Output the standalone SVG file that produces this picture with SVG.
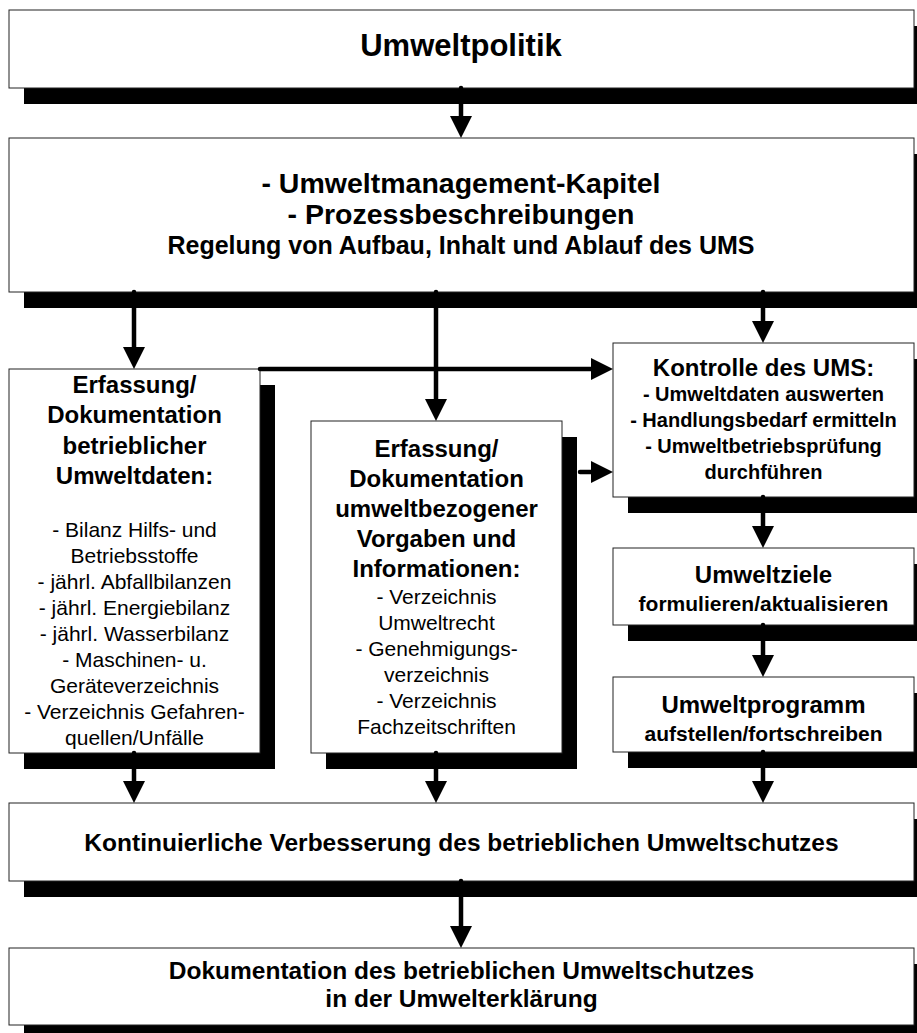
<svg xmlns="http://www.w3.org/2000/svg" width="917" height="1033" viewBox="0 0 917 1033">
<defs>
<style>
.box{fill:#fff;stroke:#222;stroke-width:1}
.sh{fill:#000}
text{font-family:"Liberation Sans",Arial,Helvetica,sans-serif;fill:#000;text-anchor:middle}
.b{font-weight:bold}
.con{stroke:#000;stroke-width:4.5;stroke-linecap:round;fill:none;marker-end:url(#ah)}
</style>
<marker id="ah" markerUnits="userSpaceOnUse" markerWidth="24" markerHeight="24" refX="2" refY="11" orient="auto">
<path d="M0,0 L22,11 L0,22 z" fill="#000"/>
</marker>
</defs>
<rect width="917" height="1033" fill="#fff"/>

<g id="umweltpolitik">
<rect class="sh" x="24" y="26" width="905" height="78"/>
<rect class="box" x="9" y="10" width="905" height="78"/>
<text class="b" x="461" y="56" font-size="31">Umweltpolitik</text>
</g>

<g id="umweltmanagement">
<rect class="sh" x="24" y="154" width="905" height="154"/>
<rect class="box" x="9" y="138" width="905" height="154"/>
<text class="b" x="461" y="193" font-size="28.5">- Umweltmanagement-Kapitel</text>
<text class="b" x="461" y="224" font-size="28.5">- Prozessbeschreibungen</text>
<text class="b" x="461" y="254" font-size="25">Regelung von Aufbau, Inhalt und Ablauf des UMS</text>
</g>

<g id="betriebliche-umweltdaten">
<rect class="sh" x="24" y="385" width="251" height="384"/>
<rect class="box" x="9" y="369" width="251" height="384"/>
<g class="b" font-size="24">
<text x="134.5" y="393">Erfassung/</text>
<text x="134.5" y="423">Dokumentation</text>
<text x="134.5" y="454">betrieblicher</text>
<text x="134.5" y="484">Umweltdaten:</text>
</g>
<g font-size="21">
<text x="134.5" y="537">- Bilanz Hilfs- und</text>
<text x="134.5" y="563">Betriebsstoffe</text>
<text x="134.5" y="589">- jährl. Abfallbilanzen</text>
<text x="134.5" y="615">- jährl. Energiebilanz</text>
<text x="134.5" y="641">- jährl. Wasserbilanz</text>
<text x="134.5" y="667">- Maschinen- u.</text>
<text x="134.5" y="693">Geräteverzeichnis</text>
<text x="134.5" y="719">- Verzeichnis Gefahren-</text>
<text x="134.5" y="745">quellen/Unfälle</text>
</g>
</g>

<g id="umweltbezogene-vorgaben">
<rect class="sh" x="326" y="437" width="251" height="332"/>
<rect class="box" x="311" y="421" width="251" height="332"/>
<g class="b" font-size="24">
<text x="436.5" y="457">Erfassung/</text>
<text x="436.5" y="487">Dokumentation</text>
<text x="436.5" y="517">umweltbezogener</text>
<text x="436.5" y="547">Vorgaben und</text>
<text x="436.5" y="577">Informationen:</text>
</g>
<g font-size="21">
<text x="436.5" y="604">- Verzeichnis</text>
<text x="436.5" y="630">Umweltrecht</text>
<text x="436.5" y="656">- Genehmigungs-</text>
<text x="436.5" y="682">verzeichnis</text>
<text x="436.5" y="708">- Verzeichnis</text>
<text x="436.5" y="734">Fachzeitschriften</text>
</g>
</g>

<g id="kontrolle">
<rect class="sh" x="628" y="359" width="301" height="154"/>
<rect class="box" x="613" y="343" width="301" height="154"/>
<text class="b" x="763.5" y="376" font-size="24">Kontrolle des UMS:</text>
<g class="b" font-size="20">
<text x="763.5" y="401">- Umweltdaten auswerten</text>
<text x="763.5" y="427">- Handlungsbedarf ermitteln</text>
<text x="763.5" y="453">- Umweltbetriebsprüfung</text>
<text x="763.5" y="479">durchführen</text>
</g>
</g>

<g id="umweltziele">
<rect class="sh" x="628" y="564" width="301" height="77"/>
<rect class="box" x="613" y="548" width="301" height="77"/>
<text class="b" x="763.5" y="583" font-size="24">Umweltziele</text>
<text class="b" x="763.5" y="611" font-size="21">formulieren/aktualisieren</text>
</g>

<g id="umweltprogramm">
<rect class="sh" x="628" y="693" width="301" height="75"/>
<rect class="box" x="613" y="677" width="301" height="75"/>
<text class="b" x="763.5" y="713" font-size="24">Umweltprogramm</text>
<text class="b" x="763.5" y="741" font-size="21">aufstellen/fortschreiben</text>
</g>

<g id="verbesserung">
<rect class="sh" x="24" y="819" width="905" height="78"/>
<rect class="box" x="9" y="803" width="905" height="78"/>
<text class="b" x="461.5" y="851" font-size="24.5">Kontinuierliche Verbesserung des betrieblichen Umweltschutzes</text>
</g>

<g id="umwelterklaerung">
<rect class="sh" x="24" y="964" width="905" height="77"/>
<rect class="box" x="9" y="948" width="905" height="77"/>
<text class="b" x="461.5" y="979" font-size="24.5">Dokumentation des betrieblichen Umweltschutzes</text>
<text class="b" x="461.5" y="1007" font-size="24.5">in der Umwelterklärung</text>
</g>

<g id="connectors">
<line class="con" x1="461" y1="88" x2="461" y2="118"/>
<line class="con" x1="134" y1="292" x2="134" y2="349"/>
<line class="con" x1="436" y1="292" x2="436" y2="401"/>
<line class="con" x1="763" y1="292" x2="763" y2="323"/>
<line class="con" x1="260" y1="369" x2="593" y2="369"/>
<line class="con" x1="580" y1="472" x2="593" y2="472"/>
<line class="con" x1="763" y1="497" x2="763" y2="528"/>
<line class="con" x1="763" y1="625" x2="763" y2="657"/>
<line class="con" x1="134" y1="753" x2="134" y2="783"/>
<line class="con" x1="436" y1="753" x2="436" y2="783"/>
<line class="con" x1="763" y1="752" x2="763" y2="783"/>
<line class="con" x1="461" y1="881" x2="461" y2="928"/>
</g>
</svg>
